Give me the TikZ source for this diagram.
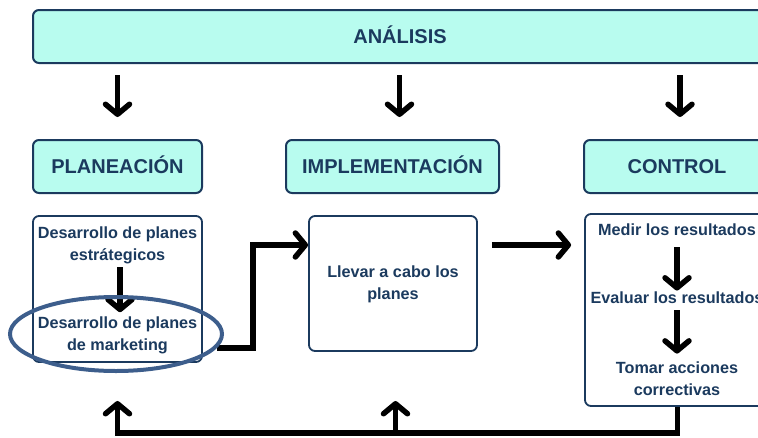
\documentclass[tikz,border=0pt]{standalone}
\usepackage{fontspec}
\setmainfont{Liberation Sans}
\usetikzlibrary{arrows.meta}
\usetikzlibrary{shapes.geometric}
\pgfdeclarelayer{edgelayer}
\pgfdeclarelayer{nodelayer}
\pgfsetlayers{nodelayer,edgelayer,main}
\definecolor{aqua}{HTML}{B8FCEF}
\definecolor{navy}{HTML}{1B3A5E}
\definecolor{ringblue}{HTML}{3D5E8C}
\tikzstyle{phase}=[rectangle,rounded corners=6pt,fill=aqua,draw=navy,line width=2pt,minimum height=53pt,inner sep=0pt,text=navy,font=\bfseries\fontsize{20}{24}\selectfont,text height=14pt,text depth=0pt]
\tikzstyle{stage}=[rectangle,rounded corners=6pt,fill=white,draw=navy,line width=1.8pt,inner sep=0pt]
\tikzstyle{entry}=[inner sep=0pt,align=center,text=navy,font=\bfseries\fontsize{16.2}{22}\selectfont]
\tikzstyle{flow}=[-{Straight Barb[length=10pt,width=24pt,round]},line width=5.5pt,draw=black]
\tikzstyle{ring}=[ellipse,draw=ringblue,line width=4pt,inner sep=0pt]

\begin{document}
\begin{tikzpicture}[x=1pt,y=-1pt]
	\useasboundingbox (0,0) rectangle (758,437);
	\begin{pgfonlayer}{nodelayer}
		\node [style=phase, minimum width=734pt] (0) at (400, 36.5) {ANÁLISIS};
		\node [style=phase, minimum width=169pt] (1) at (117.5, 166.5) {PLANEACIÓN};
		\node [style=phase, minimum width=213pt] (2) at (392.5, 166.5) {IMPLEMENTACIÓN};
		\node [style=phase, minimum width=186pt] (3) at (677, 166.5) {CONTROL};
		\node [style=stage, minimum width=169pt, minimum height=146pt] (4) at (117.5, 289) {};
		\node [style=stage, minimum width=168pt, minimum height=135pt] (5) at (393, 283.5) {};
		\node [style=stage, minimum width=185pt, minimum height=192pt] (6) at (677.5, 310) {};
		\node [style=entry] (7) at (117.5, 245) {Desarrollo de planes\\estrátegicos};
		\node [style=entry] (8) at (117.5, 335.5) {Desarrollo de planes\\de marketing};
		\node [style=entry] (9) at (393, 284.5) {Llevar a cabo los\\planes};
		\node [style=entry] (10) at (677, 230) {Medir los resultados};
		\node [style=entry] (11) at (677, 298) {Evaluar los resultados};
		\node [style=entry] (12) at (677, 378.25) {Tomar acciones\\correctivas};
	\end{pgfonlayer}
	\coordinate (14) at (253, 245);
	\coordinate (15) at (117.5, 401);
	\coordinate (16) at (395.5, 401);
	\coordinate (17) at (395.5, 433);
	\node [style=ring, minimum width=212pt, minimum height=74pt] (13) at (116, 334) {};
	\begin{pgfonlayer}{edgelayer}
		\draw [style=flow, shorten <=11pt, shorten >=22pt] (0.south -| 1.north) to (1.north);
		\draw [style=flow, shorten <=11pt, shorten >=22pt, transform canvas={xshift=7pt}] (0.south -| 2.north) to (2.north);
		\draw [style=flow, shorten <=11pt, shorten >=22pt, transform canvas={xshift=3pt}] (0.south -| 3.north) to (3.north);
		\draw [style=flow, shorten <=3.6pt, shorten >=4.5pt, transform canvas={xshift=2.5pt}] (7) to (8);
		\draw [style=flow] (13.-8) -| (14) -- (14 -| 5.west);
		\draw [style=flow, shorten <=14pt, shorten >=13pt] (5.east |- 14) to (6.west |- 14);
		\draw [style=flow, shorten <=11pt, shorten >=1.3pt] (10) to (11);
		\draw [style=flow, shorten <=6pt, shorten >=7.5pt] (11) to (12);
		\draw [style=flow] (6.south) |- (17 -| 15) -- (15);
		\draw [style=flow] (17) -- (16);
	\end{pgfonlayer}
\end{tikzpicture}
\end{document}
